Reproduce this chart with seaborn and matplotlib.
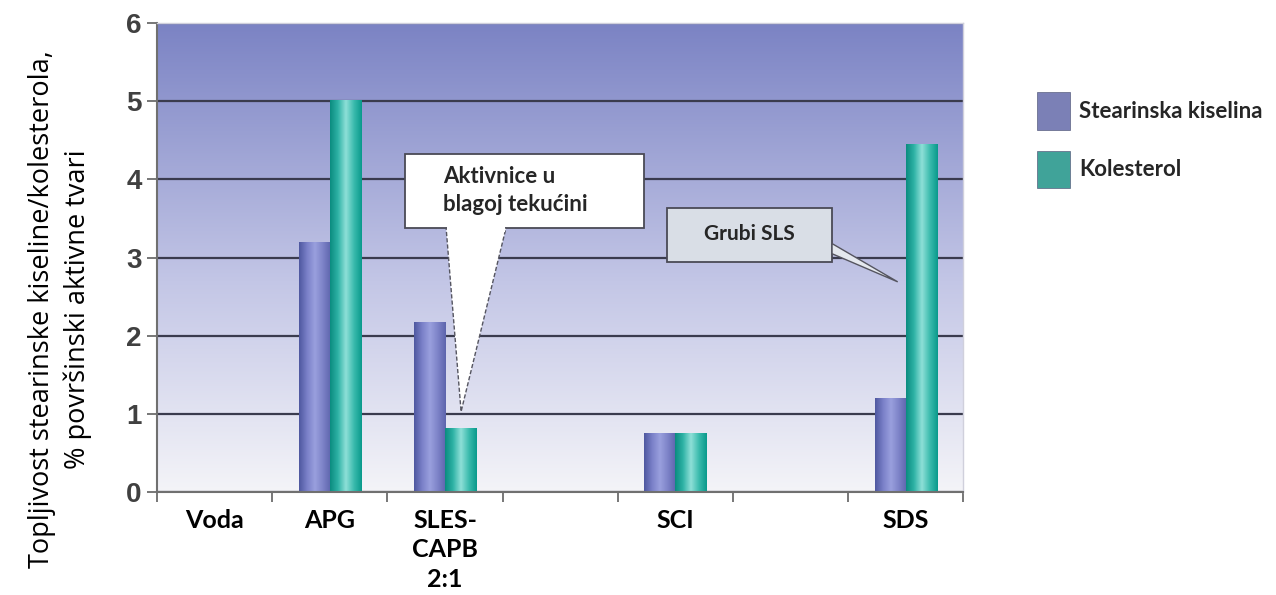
import numpy as np
import pandas as pd
import matplotlib
matplotlib.use("Agg")
import matplotlib.pyplot as plt
from matplotlib.colors import LinearSegmentedColormap
from matplotlib.patches import Polygon, Rectangle
import seaborn as sns

# Podaci
kategorije = ["Voda", "APG", "SLES-CAPB 2:1", "prazno1", "SCI", "prazno2", "SDS"]
oznake_x = ["Voda", "APG", "SLES-\nCAPB\n2:1", "", "SCI", "", "SDS"]
stearinska = [0.0, 3.2, 2.17, np.nan, 0.76, np.nan, 1.2]
kolesterol = [0.0, 5.02, 0.82, np.nan, 0.76, np.nan, 4.45]
serije = ["Stearinska kiselina", "Kolesterol"]
y_oznake = [0, 1, 2, 3, 4, 5, 6]

df = pd.DataFrame({
    "kategorija": kategorije * 2,
    "vrijednost": stearinska + kolesterol,
    "tvar": [serije[0]] * len(kategorije) + [serije[1]] * len(kategorije),
})

sns.set_theme(style="white")
plt.rcParams["font.family"] = ["Open Sans", "DejaVu Sans"]

fig = plt.figure(figsize=(12.76, 5.95), dpi=100)
ax = fig.add_axes([0.123, 0.173, 0.632, 0.788])

boje = {serije[0]: "#7178c0", serije[1]: "#2fb3a6"}
sns.barplot(data=df, x="kategorija", y="vrijednost", hue="tvar", order=kategorije,
            hue_order=serije, palette=boje, width=0.54, linewidth=0, ax=ax,
            legend=True)

ax.set_xlim(-0.5, len(kategorije) - 0.5)
ax.set_ylim(0, 6)

# pozadina s gradijentom
poz_cmap = LinearSegmentedColormap.from_list(
    "poz", [(0.0, "#f4f4f8"), (0.45, "#c3c6e6"), (1.0, "#7b83c4")])
grad = np.linspace(0, 1, 256).reshape(-1, 1)
ax.imshow(grad, extent=[0, 1, 0, 1], transform=ax.transAxes, origin="lower",
          aspect="auto", cmap=poz_cmap, zorder=0.1)

# cilindricno sjencanje stupaca
sjena = {
    serije[0]: LinearSegmentedColormap.from_list(
        "s0", ["#4f58a0", "#7a80c8", "#9aa0de", "#7d83c8", "#5d65ad"]),
    serije[1]: LinearSegmentedColormap.from_list(
        "s1", ["#0b8c80", "#2fb3a6", "#8fe0d8", "#3cbcae", "#0a9a8c"]),
}
hor = np.linspace(0, 1, 64).reshape(1, -1)
for cont, ime in zip(ax.containers, serije):
    for p in cont.patches:
        h = p.get_height()
        if not np.isfinite(h) or h <= 0:
            continue
        x0 = p.get_x()
        w = p.get_width()
        im = ax.imshow(hor, extent=[x0, x0 + w, 0, h], aspect="auto",
                       cmap=sjena[ime], zorder=1.2)
        im.set_clip_path(p)

ax.set_xlim(-0.5, len(kategorije) - 0.5)
ax.set_ylim(0, 6)

# mreza
ax.set_yticks(y_oznake)
ax.yaxis.grid(True, color="#3a3b4e", linewidth=1.6)
ax.set_axisbelow(True)
ax.set_yticklabels([str(v) for v in y_oznake], fontsize=20, fontweight="bold",
                   color="#404040", family=["Liberation Sans", "DejaVu Sans"])
ax.tick_params(axis="y", left=True, length=7, width=1.2, color="#606060", pad=4)

ax.set_xticks(range(len(kategorije)))
ax.set_xticklabels(oznake_x, fontsize=18, fontweight="bold", color="black",
                   family=["Lato", "DejaVu Sans"], linespacing=1.35)
ax.set_xticks(np.arange(-0.5, len(kategorije), 1.0), minor=True)
ax.tick_params(axis="x", which="major", length=0, pad=12)
ax.tick_params(axis="x", which="minor", bottom=True, length=7, width=1.2,
               color="#606060")
ax.set_xlabel("")
ax.set_ylabel("Topljivost stearinske kiseline/kolesterola,\n% površinski aktivne tvari",
              fontsize=19.5, color="black", linespacing=1.35)
ax.yaxis.set_label_coords(-0.08, 0.39)

for s in ["left", "bottom"]:
    ax.spines[s].set_color("#707070")
    ax.spines[s].set_linewidth(1.5)
for s in ["top", "right"]:
    ax.spines[s].set_color("#d0d0dc")
    ax.spines[s].set_linewidth(1.0)

# legenda
ruke, imena = ax.get_legend_handles_labels()
leg = ax.legend(ruke, imena, loc="upper left", bbox_to_anchor=(1.066, 0.895),
                frameon=False, handlelength=1.5, handleheight=2.2,
                labelspacing=0.95, handletextpad=0.4,
                prop={"family": ["Lato", "DejaVu Sans"], "weight": "bold", "size": 16})
for h, ime in zip(leg.legend_handles, serije):
    h.set_edgecolor("#5a5f80")
    h.set_linewidth(0.5)

# oblacic "Aktivnice u blagoj tekucini"
okvir = Rectangle((1.65, 3.38), 2.08, 0.95, facecolor="white",
                  edgecolor="#4a4a55", linewidth=1.3, zorder=4)
ax.add_patch(okvir)
trokut = Polygon([(2.01, 3.38), (2.53, 3.38), (2.14, 1.03)], closed=True,
                 facecolor="white", edgecolor="#555560", linewidth=1.0,
                 linestyle=(0, (3, 1.5)), zorder=4)
ax.add_patch(trokut)
ax.add_patch(Rectangle((2.02, 3.33), 0.50, 0.08, facecolor="white",
                       edgecolor="none", zorder=4.5))
ax.text(1.98, 3.86, "Aktivnice u\nblagoj tekućini", fontsize=16, fontweight="bold",
        family=["Lato", "DejaVu Sans"], ha="left", va="center",
        linespacing=1.45, zorder=5)

# oblacic "Grubi SLS"
ax.add_patch(Rectangle((3.93, 2.94), 1.43, 0.69, facecolor="#d9dee6",
                       edgecolor="#4a4a55", linewidth=1.3, zorder=4))
ax.add_patch(Polygon([(5.36, 3.18), (5.36, 3.05), (5.93, 2.69)], closed=True,
                     facecolor="#e4e8ee", edgecolor="#555560", linewidth=1.0,
                     zorder=4))
ax.text(4.64, 3.30, "Grubi SLS", fontsize=15, fontweight="bold",
        family=["Lato", "DejaVu Sans"], ha="center", va="center", zorder=5)

fig.savefig("out.png", dpi=100)
